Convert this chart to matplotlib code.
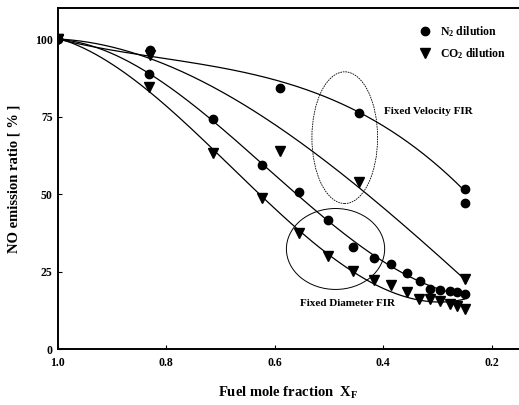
import numpy as np
import matplotlib
matplotlib.use("Agg")
import matplotlib.pyplot as plt
from matplotlib.patches import Ellipse

plt.rcParams["font.family"] = ["Liberation Serif", "DejaVu Serif"]
plt.rcParams["mathtext.fontset"] = "custom"
plt.rcParams["mathtext.rm"] = "Liberation Serif:bold"
plt.rcParams["mathtext.it"] = "Liberation Serif:bold"
plt.rcParams["mathtext.bf"] = "Liberation Serif:bold"

# fixed velocity FIR, measured points
vel_x_n2 = [1.0, 0.83, 0.59, 0.445, 0.25, 0.25]
vel_y_n2 = [100, 96.5, 84.2, 76.3, 51.6, 47.2]
vel_x_co2 = [1.0, 0.83, 0.59, 0.445, 0.25]
vel_y_co2 = [100, 95.0, 64.0, 54.0, 22.5]

# fixed velocity FIR, trend lines
vel_fit_x_n2 = [1.0, 0.83, 0.70, 0.59, 0.444, 0.25]
vel_fit_y_n2 = [100, 94.5, 91.0, 86.0, 76.5, 51.0]
vel_fit_x_co2 = [1.0, 0.83, 0.70, 0.628, 0.444, 0.25]
vel_fit_y_co2 = [100, 94.0, 82.5, 76.0, 52.0, 22.5]

# fixed diameter FIR
dia_x_n2 = [1.0, 0.832, 0.714, 0.624, 0.556, 0.501, 0.455, 0.418, 0.385,
            0.357, 0.333, 0.314, 0.296, 0.278, 0.264, 0.25]
dia_y_n2 = [100, 88.6, 74.1, 59.4, 50.8, 41.6, 33.0, 29.5, 27.4,
            24.4, 22.0, 19.4, 19.0, 18.8, 18.3, 17.7]
dia_x_co2 = [1.0, 0.832, 0.714, 0.623, 0.555, 0.501, 0.455, 0.418, 0.385,
             0.357, 0.334, 0.314, 0.296, 0.278, 0.264, 0.25]
dia_y_co2 = [100, 84.6, 63.1, 48.8, 37.3, 30.0, 25.2, 22.2, 20.6,
             18.3, 16.3, 16.1, 15.6, 14.5, 13.9, 12.9]

x_ticks = [1.0, 0.8, 0.6, 0.4, 0.2]
y_ticks = [0, 25, 50, 75, 100]


def fit_line(ax, x, y, deg):
    x = np.asarray(x, float)
    # weight by local spacing so the dense tail does not dominate the fit
    w = np.sqrt(np.abs(np.gradient(x)))
    c = np.polyfit(x, y, deg, w=w)
    xs = np.linspace(x.min(), x.max(), 200)
    ax.plot(xs, np.polyval(c, xs), color="black", lw=0.9)


fig = plt.figure(figsize=(5.19, 4.05), dpi=100)
ax = fig.add_axes([0.111, 0.138, 0.889, 0.842])

fit_line(ax, vel_fit_x_n2, vel_fit_y_n2, 3)
fit_line(ax, vel_fit_x_co2, vel_fit_y_co2, 3)
fit_line(ax, dia_x_n2, dia_y_n2, 3)
fit_line(ax, dia_x_co2, dia_y_co2, 3)

ax.plot(vel_x_n2, vel_y_n2, "o", color="black", ms=6, ls="none")
ax.plot(dia_x_n2, dia_y_n2, "o", color="black", ms=6, ls="none",
        label=r"N$_2$ dilution")
ax.plot(vel_x_co2, vel_y_co2, "v", color="black", ms=6.5, ls="none")
ax.plot(dia_x_co2, dia_y_co2, "v", color="black", ms=6.5, ls="none",
        label=r"CO$_2$ dilution")

ax.add_patch(Ellipse((0.471, 68.2), 0.121, 42.5, fill=False, lw=0.6,
                     ls=(0, (2, 1)), color="black"))
ax.add_patch(Ellipse((0.488, 32.3), 0.181, 26.1, fill=False, lw=0.7,
                     color="black"))
ax.text(0.398, 76.5, "Fixed Velocity FIR", fontsize=8, fontweight="bold",
        va="center", ha="left")
ax.text(0.553, 14.7, "Fixed Diameter FIR", fontsize=8, fontweight="bold",
        va="center", ha="left")

ax.set_xlim(1.0, 0.15)
ax.set_ylim(0, 110)
ax.set_xticks(x_ticks)
ax.set_xticklabels([f"{v:.1f}" for v in x_ticks])
ax.set_yticks(y_ticks)
ax.tick_params(direction="in", length=3, width=0.8, labelsize=8.5)
ax.tick_params(axis="x", pad=6)
for lab in ax.get_xticklabels() + ax.get_yticklabels():
    lab.set_fontweight("bold")
ax.spines["right"].set_visible(False)
for s in ["left", "bottom", "top"]:
    ax.spines[s].set_linewidth(1.4)

ax.set_xlabel(r"Fuel mole fraction  X$_F$", fontsize=10.5, fontweight="bold",
              labelpad=11)
ax.set_ylabel("NO emission ratio [ % ]", fontsize=10.5, fontweight="bold",
              labelpad=10)
ax.legend(loc="upper right", bbox_to_anchor=(0.995, 0.985), frameon=False,
          prop={"weight": "bold", "size": 8.5}, handletextpad=0.5,
          labelspacing=0.6, handlelength=1.6)

fig.savefig("out.png", dpi=100)
